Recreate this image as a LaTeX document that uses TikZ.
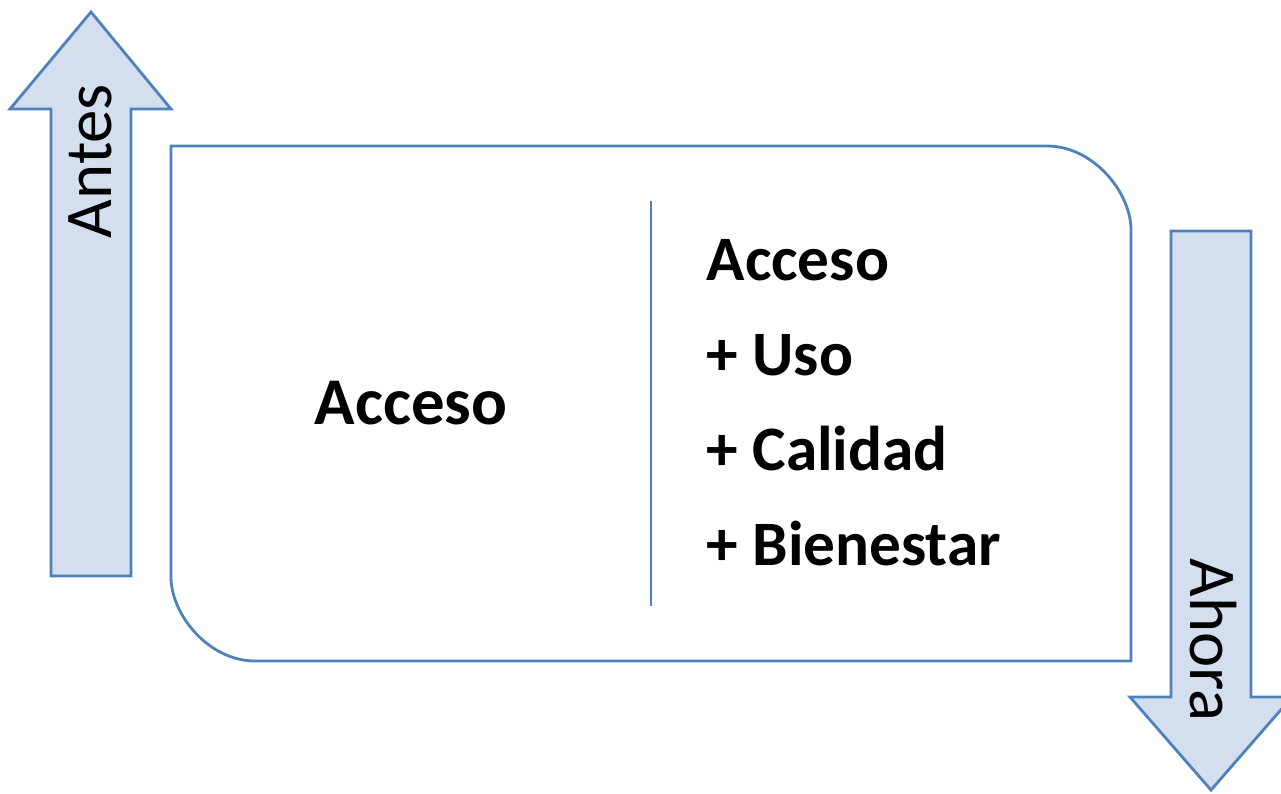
\documentclass[tikz,border=0pt]{standalone}
\usepackage{fontspec}
\setmainfont{Carlito}
\usetikzlibrary{positioning}
\definecolor{arrowfill}{RGB}{211,222,239}
\definecolor{frameblue}{RGB}{79,129,189}
\newcommand\crad{84}
\newcommand\cctl{38}
\tikzset{frameline/.style={draw=frameblue, line width=0.8pt}}
\tikzset{bigarrow/.style={frameline, fill=arrowfill, line join=miter}}
\tikzset{itemtext/.style={font=\fontsize{18}{22}\selectfont\bfseries, anchor=base west, inner sep=0pt}}
\tikzset{sidetext/.style={font=\fontsize{19}{23}\selectfont, inner sep=0pt}}

\begin{document}
\begin{tikzpicture}[x=0.01cm, y=-0.01cm]
\useasboundingbox (0,0) rectangle (1281,793);
% flechas antes / ahora
\draw[bigarrow] (51,576) -- (51,109) -- (10,109) -- (91,12) -- (171,109) -- (131,109) -- (131,576) -- cycle;
\draw[bigarrow] (1171,231) -- (1251,231) -- (1251,697) -- (1292,697) -- (1211,790) -- (1130,697) -- (1171,697) -- cycle;
\node[sidetext, rotate=90] (antes) at (90,161) {Antes};
\node[sidetext, rotate=-90] (ahora) at (1213,640) {Ahora};
% marco
\draw[frameline] (171,146) -- (1131-\crad,146)
	.. controls (1131-\cctl,146) and (1131,146+\crad-\cctl) .. (1131,146+\crad)
	-- (1131,661) -- (171+\crad,661)
	.. controls (171+\cctl,661) and (171,661-\crad+\cctl) .. (171,661-\crad)
	-- cycle;
\coordinate (divtop) at (651,201);
\coordinate (divbot) at (651,606);
\draw[frameline] (divtop) -- (divbot);
\node[font=\fontsize{19}{23}\selectfont\bfseries, inner sep=0pt] (antesitem) at (411,403) {Acceso};
\foreach \txt [count=\i from 0] in {Acceso, + Uso, + Calidad, + Bienestar}
	\node[itemtext] (item\i) at (706,280+95*\i) {\txt};
\end{tikzpicture}
\end{document}
